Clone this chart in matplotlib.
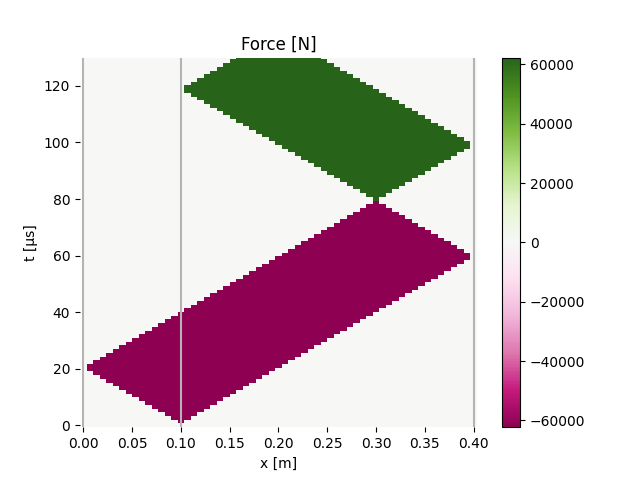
import numpy as np
import matplotlib
matplotlib.use("Agg")
import matplotlib.pyplot as plt

n_x = 61
n_t = 100
x_max = 0.4
t_max = 130.0
force_peak = 62300
boundary_x = [0.0, 0.1, 0.4]

# Occupied cell ranges read row by row (row index = time step)
purple_first_row = 1
purple_left = [15, 14, 13, 12, 11, 10, 9, 8, 7, 6, 5, 4, 3, 2, 1, 1,
               2, 3, 4, 5, 6, 7, 8, 9, 10, 11, 12, 13, 14, 15, 16, 17, 18, 19, 20, 21, 22, 23,
               24, 25, 26, 27, 28, 29, 30, 31, 32, 33, 34, 35, 36, 37, 38, 39, 40, 41, 42, 43, 44, 45]
purple_right = [15, 16, 17, 18, 19, 20, 21, 22, 23, 24, 25, 26, 27, 28, 29, 30, 31, 32, 33, 34, 35, 36, 37,
                38, 39, 40, 41, 42, 43, 44, 45, 46, 47, 48, 49, 50, 51, 52, 53, 54, 55, 56, 57, 58, 59,
                59, 58, 57, 56, 55, 54, 53, 52, 51, 50, 49, 48, 47, 46, 45]
green_first_row = 61
green_left = [45, 44, 43, 42, 41, 40, 39, 38, 37, 36, 35, 34, 33, 32, 31, 30, 29, 28, 27, 26, 25, 24, 23, 22,
              21, 20, 19, 18, 17, 16, 16, 17, 18, 19, 20, 21, 22, 23, 24]
green_right = [45, 46, 47, 48, 49, 50, 51, 52, 53, 54, 55, 56, 57, 58, 59, 59,
               58, 57, 56, 55, 54, 53, 52, 51, 50, 49, 48, 47, 46, 45, 44, 43, 42, 41, 40, 39, 38, 37, 36]

x = np.linspace(0, x_max, n_x)
t = np.linspace(0, t_max, n_t)
force = np.zeros((n_t, n_x))
for r, (a, b) in enumerate(zip(purple_left, purple_right)):
    force[purple_first_row + r, a:b + 1] = -force_peak
for r, (a, b) in enumerate(zip(green_left, green_right)):
    force[green_first_row + r, a:b + 1] = force_peak

dx = x[1] - x[0]
dt = t[1] - t[0]
x_edges = np.concatenate(([x[0]], x[:-1] + dx / 2, [x[-1] + dx / 2]))
t_edges = np.concatenate(([t[0] - dt / 2], t + dt / 2))

fig, ax = plt.subplots(figsize=(6.4, 4.8), dpi=100)
mesh = ax.pcolormesh(x_edges, t_edges, force, cmap="PiYG",
                     vmin=-force_peak, vmax=force_peak, shading="flat")
for xb in boundary_x:
    ax.axvline(xb, color="#b4b4b4", lw=1.5)
ax.set_xlim(x[0] - dx / 2, x[-1] + dx / 2)
ax.set_ylim(t_edges[0], t_max)
for s in ax.spines.values():
    s.set_visible(False)
ax.set_title("Force [N]")
ax.set_xlabel("x [m]")
ax.set_ylabel("t [µs]")
fig.colorbar(mesh, ax=ax)
fig.savefig("out.png", dpi=100)
